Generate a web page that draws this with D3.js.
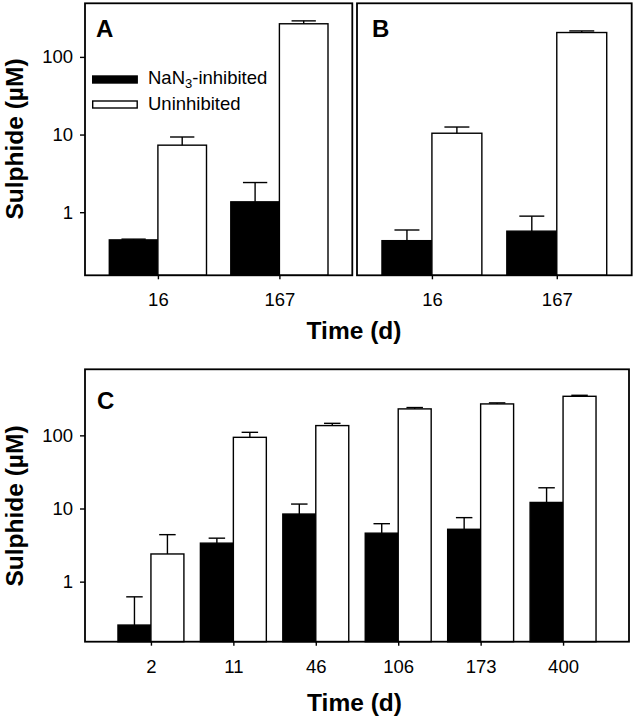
<!DOCTYPE html>
<html>
<head>
<meta charset="utf-8">
<script src="https://cdn.jsdelivr.net/npm/d3@7"></script>
<style>
  html, body { margin: 0; padding: 0; background: #fff; }
  svg { display: block; }
  text { font-family: "Liberation Sans", Arial, sans-serif; fill: #000; }
</style>
</head>
<body>
<svg id="chart" width="634" height="721"></svg>
<script>
// ---------- data ----------
const timesAB = ["16", "167"];
const timesC = ["2", "11", "46", "106", "173", "400"];
const yTickValues = [1, 10, 100];
const seriesNames = ["NaN3-inhibited", "Uninhibited"];

const A_inhibited = [0.44, 1.36];
const A_inhibitedErr = [0.01, 1.05];
const A_uninhibited = [7.3, 267];
const A_uninhibitedErr = [2.0, 24];

const B_inhibited = [0.43, 0.57];
const B_inhibitedErr = [0.16, 0.32];
const B_uninhibited = [10.4, 206];
const B_uninhibitedErr = [2.1, 10];

const C_inhibited = [0.255, 3.36, 8.4, 4.6, 5.2, 12.1];
const C_inhibitedErr = [0.365, 0.57, 3.1, 1.6, 2.3, 7.1];
const C_uninhibited = [2.39, 94, 136, 230, 269, 342];
const C_uninhibitedErr = [2.0, 16, 10, 10, 9, 11];

// ---------- drawing ----------
const svg = d3.select("#chart");
const FONT = '"Liberation Sans", Arial, sans-serif';

function panel(opts) {
  const { x0, x1, y0, y1, cats, inh, inhErr, un, unErr, yDomain, pad, showY, letter, letterX, letterY } = opts;
  const g = svg.append("g");
  const x = d3.scalePoint().domain(cats).range([x0, x1]).padding(pad);
  const y = d3.scaleLog().domain(yDomain).range([y1, y0]);
  const bw = x.step() * 0.4;

  const rows = cats.map((c, i) => ({ c, inh: inh[i], inhE: inhErr[i], un: un[i], unE: unErr[i] }));

  // bars
  g.selectAll(".inh").data(rows).join("rect")
    .attr("x", d => x(d.c) - bw).attr("width", bw)
    .attr("y", d => y(d.inh)).attr("height", d => y1 - y(d.inh))
    .attr("fill", "#000").attr("stroke", "#000").attr("stroke-width", 1.4);
  g.selectAll(".un").data(rows).join("rect")
    .attr("x", d => x(d.c)).attr("width", bw)
    .attr("y", d => y(d.un)).attr("height", d => y1 - y(d.un))
    .attr("fill", "#fff").attr("stroke", "#000").attr("stroke-width", 1.4);

  // error bars (upper only)
  const errs = [];
  rows.forEach(d => {
    errs.push({ cx: x(d.c) - bw / 2, v: d.inh, e: d.inhE });
    errs.push({ cx: x(d.c) + bw / 2, v: d.un, e: d.unE });
  });
  const eg = g.append("g").attr("stroke", "#000").attr("stroke-width", 1.4);
  eg.selectAll(".ev").data(errs).join("line")
    .attr("x1", d => d.cx).attr("x2", d => d.cx)
    .attr("y1", d => y(d.v)).attr("y2", d => y(d.v + d.e));
  eg.selectAll(".ec").data(errs).join("line")
    .attr("x1", d => d.cx - bw / 4).attr("x2", d => d.cx + bw / 4)
    .attr("y1", d => y(d.v + d.e)).attr("y2", d => y(d.v + d.e));

  // frame
  g.append("rect").attr("x", x0).attr("y", y0).attr("width", x1 - x0).attr("height", y1 - y0)
    .attr("fill", "none").attr("stroke", "#000").attr("stroke-width", 1.8);

  // x axis
  const xa = g.append("g").attr("transform", `translate(0,${y1})`)
    .call(d3.axisBottom(x).tickSize(4).tickPadding(14));
  xa.select(".domain").remove();
  xa.selectAll("line").attr("stroke", "#000").attr("stroke-width", 1.4);
  xa.selectAll("text").attr("font-size", 18.5).attr("font-family", FONT);

  // y axis
  if (showY) {
    const ya = g.append("g").attr("transform", `translate(${x0},0)`)
      .call(d3.axisLeft(y).tickValues(yTickValues).tickFormat(d3.format("d")).tickSize(5).tickPadding(7));
    ya.select(".domain").remove();
    ya.selectAll("line").attr("stroke", "#000").attr("stroke-width", 1.4);
    ya.selectAll("text").attr("font-size", 18.5).attr("font-family", FONT);
  }

  g.append("text").attr("x", letterX).attr("y", letterY)
    .attr("font-size", 24).attr("font-weight", "bold").text(letter);
  return { x, y };
}

const domAB = [0.154, 490];
const domC = [0.151, 800];

panel({ x0: 85, x1: 352.3, y0: 3.3, y1: 275.3, cats: timesAB,
  inh: A_inhibited, inhErr: A_inhibitedErr, un: A_uninhibited, unErr: A_uninhibitedErr,
  yDomain: domAB, pad: 0.6, showY: true, letter: "A", letterX: 96, letterY: 36.7 });
panel({ x0: 357, x1: 631.7, y0: 3.3, y1: 275.3, cats: timesAB,
  inh: B_inhibited, inhErr: B_inhibitedErr, un: B_uninhibited, unErr: B_uninhibitedErr,
  yDomain: domAB, pad: 0.6, showY: false, letter: "B", letterX: 372, letterY: 36.5 });
panel({ x0: 85, x1: 629, y0: 369.3, y1: 641.7, cats: timesC,
  inh: C_inhibited, inhErr: C_inhibitedErr, un: C_uninhibited, unErr: C_uninhibitedErr,
  yDomain: domC, pad: 0.8, showY: true, letter: "C", letterX: 97, letterY: 409 });

// axis titles
function yTitle(cy) {
  svg.append("text").attr("transform", `translate(14,${cy}) rotate(-90)`)
    .attr("text-anchor", "middle").attr("dy", "0.35em")
    .attr("font-size", 24.5).attr("font-weight", "bold").text("Sulphide (µM)");
}
yTitle(139);
yTitle(506);

svg.append("text").attr("x", 354).attr("y", 339.3).attr("text-anchor", "middle")
  .attr("font-size", 24.5).attr("font-weight", "bold").text("Time (d)");
svg.append("text").attr("x", 354.5).attr("y", 710.7).attr("text-anchor", "middle")
  .attr("font-size", 24.5).attr("font-weight", "bold").text("Time (d)");

// legend (panel A)
const legend = svg.append("g");
const legendFill = ["#000", "#fff"];
const legendY = [76, 101];
const legendBase = [84.3, 110];
seriesNames.forEach((name, i) => {
  legend.append("rect").attr("x", 92.7).attr("y", legendY[i]).attr("width", 44.5).attr("height", 7)
    .attr("fill", legendFill[i]).attr("stroke", "#000").attr("stroke-width", 1.4);
  const t = legend.append("text").attr("x", 148).attr("y", legendBase[i]).attr("font-size", 18.5);
  if (name.startsWith("NaN3")) {
    t.append("tspan").text("NaN");
    t.append("tspan").attr("dy", 4).attr("font-size", 13).text("3");
    t.append("tspan").attr("dy", -4).text(name.slice(4));
  } else {
    t.text(name);
  }
});
</script>
</body>
</html>
